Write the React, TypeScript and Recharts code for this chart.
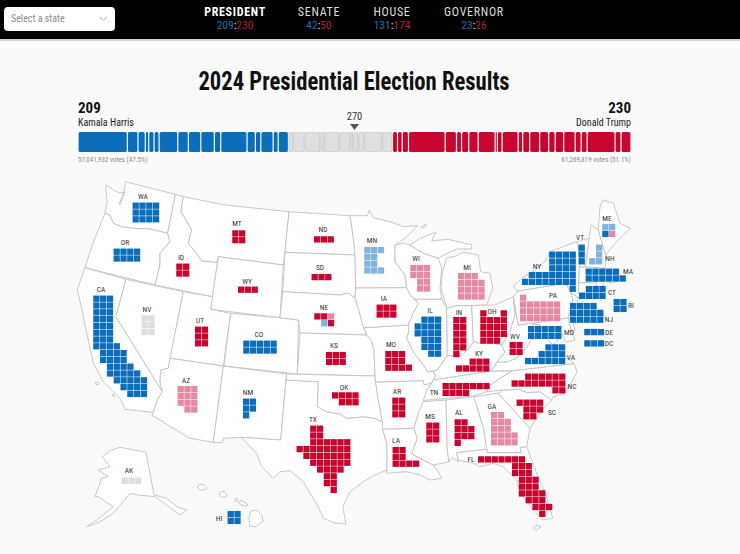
import React from "react";
import {
  Bar,
  BarChart,
  LabelList,
  Rectangle,
  Scatter,
  ScatterChart,
  XAxis,
  YAxis,
} from "recharts";

const BLUE = "#0a6ebd";
const RED = "#c8042f";
const LIGHT_BLUE = "#82b4e0";
const PINK = "#e48aa4";
const GREY = "#dedede";
const FONT = '"Roboto Condensed", "Liberation Sans Narrow", Roboto, sans-serif';

const harrisSegments = [48, 10.4, 7.1, 3.3, 5.2, 4.9, 18.2, 10.3, 12.1, 13.2, 6.2, 25.6, 8.1, 5.3, 12, 4.9, 10];
const pendingSegments = [4.6, 11.2, 15.1, 3.9, 14.6, 10.7, 2.9, 4.9, 5.8, 17.5, 10];
const trumpSegments = [4.9, 4.6, 6.1, 35.7, 11, 4.9, 7, 9.2, 16.5, 2.2, 4.6, 15.6, 4.4, 6.8, 9.7, 8.8, 6.3, 8.3, 11.2, 5.8, 5.8, 27.2, 5.8, 9.7];

const raceTabs = [
  { name: "PRESIDENT", dem: 209, rep: 230, center: 235 },
  { name: "SENATE", dem: 42, rep: 50, center: 319 },
  { name: "HOUSE", dem: 131, rep: 174, center: 392 },
  { name: "GOVERNOR", dem: 23, rep: 26, center: 474 },
];

// one square per electoral vote: D/R called, d/r leaning, n pending, "." empty
const stateCells: [string, number, number, string[]][] = [
  ["WA", 132.3, 202.3, ["DDDD", "DDDD", "DDDD"]],
  ["OR", 113.3, 248.3, ["DDDD", "DDDD"]],
  ["CA", 93, 295.3, ["DDD", "DDD", "DDD", "DDD", "DDD", "DDD", "DDD", "DDDD", ".DDDD", ".DDDD", "..DDDD", "..DDDDD", "...DDDDD", "....DDDD", ".....DDD"]],
  ["NV", 141.3, 315, ["nn", "nn", "nn"]],
  ["ID", 176, 263.3, ["RR", "RR"]],
  ["MT", 232, 230, ["RR", "RR"]],
  ["WY", 237.7, 286.3, ["RRR"]],
  ["UT", 194.7, 326.3, ["RR", "RR", "RR"]],
  ["CO", 243, 340.3, ["DDDDD", "DDDDD"]],
  ["AZ", 177.3, 385.7, ["rrr", "rrr", "rrr", ".rr"]],
  ["NM", 242.7, 398.3, ["DD", "DD", "D"]],
  ["ND", 313.7, 236, ["RRR"]],
  ["SD", 311.3, 273.7, ["RRR"]],
  ["NE", 314, 313, ["RRr", ".dR"]],
  ["KS", 325.7, 351.7, ["RRR", "RRR"]],
  ["OK", 331.7, 392, ["RRRR", ".RRR"]],
  ["TX", 296.3, 425.3, ["..RR", "..RR", "..RRRRRR", "RRRRRRRR", ".RRRRRRR", "..RRRRRR", "...RRRR", "....RR", "....RR", ".....R"]],
  ["MN", 364, 246.7, ["ddd", "dd", "dd", "ddd"]],
  ["IA", 376.3, 304.3, ["RRR", "RRR"]],
  ["MO", 385, 350.7, ["RRR", "RRR", "RRRR"]],
  ["AR", 392, 397.3, ["RR", "RR", "RR"]],
  ["LA", 392.3, 446.7, ["RR", "RR", "RRRR"]],
  ["WI", 410, 264.7, ["rrr", "rrr", ".rr", ".rr"]],
  ["IL", 414.3, 316.3, [".DDD", "DDDD", "DDDD", ".DDD", ".DDD", "..DD"]],
  ["MI", 457.7, 272.7, ["rrr", "rrrr", "rrrr", "rrrr"]],
  ["IN", 453, 316.7, ["RR", "RR", "RR", "RR", "RR", "R"]],
  ["OH", 480, 310, ["R..R", "RRRR", "RRRR", "RRRR", "RRR"]],
  ["KY", 455.7, 358.3, ["..RRR", "RRRRR"]],
  ["TN", 442.3, 382.7, ["RRRRRRR", "RRRR"]],
  ["MS", 426, 422.3, ["RR", "RR", "RR"]],
  ["AL", 454.3, 419, ["RR", "RRR", "RRR", "R"]],
  ["GA", 490.7, 411.7, ["rr", "rrr", "rrr", "rrrr", "rrrr"]],
  ["FL", 477.7, 456, ["RRRRRRR", ".....RRR", ".....RRR", "......RRR", "......RRR", "......RRRR", ".......RRR", "........RRR", ".........R"]],
  ["SC", 516.3, 399.3, ["RRRR", ".RRR", ".RR"]],
  ["NC", 511.3, 373.3, ["..RRRRRR", "RRRRRRRR", "......RR"]],
  ["WV", 509.3, 341.7, ["RR", "RR"]],
  ["VA", 524.7, 344, ["...DDD", "..DDDD", "DDDDDD"]],
  ["MD", 527.7, 325.7, ["DDDDD", "DDDDD"]],
  ["DC", 584, 340, ["DDD"]],
  ["DE", 584, 328.7, ["DDD"]],
  ["PA", 519.7, 294.3, ["r", "rrrrrr", "rrrrrr", "rrrrrr"]],
  ["NJ", 569.7, 302.7, ["DDDD", "DDDDD", "DDDDD"]],
  ["NY", 521.7, 251.3, ["....DDDD", "....DDDD", "....DDDD", ".DDDDDDD", "DDDDDDDD", ".......D"]],
  ["CT", 578.7, 285.7, [".DDD", "DDDD"]],
  ["RI", 613.3, 298.7, ["DD", "DD"]],
  ["MA", 585.3, 268.3, ["DDDDD", "DDDDDD"]],
  ["VT", 578.3, 244.3, ["D", "D", "D"]],
  ["NH", 589, 244.3, [".d", ".d", "dd"]],
  ["ME", 602, 223.7, ["dd", "Dr"]],
  ["AK", 121.3, 477.3, ["nnn"]],
  ["HI", 227.3, 510.7, ["DD", "DD"]],
];

const stateLabels: [string, number, number][] = [
  ["WA", 143, 196], ["OR", 125, 242], ["CA", 101, 289], ["NV", 147, 309], ["ID", 181, 257], ["MT", 237, 223],
  ["WY", 247, 281], ["UT", 200, 320], ["CO", 259, 334], ["AZ", 186, 380], ["NM", 248, 392], ["ND", 323, 229],
  ["SD", 320, 267], ["NE", 324, 307], ["KS", 334, 345], ["OK", 344, 387], ["TX", 313, 419], ["MN", 372, 240],
  ["IA", 384, 298], ["MO", 391, 344], ["AR", 397, 391], ["LA", 396, 440], ["WI", 416, 258], ["IL", 430, 310],
  ["MI", 467, 267], ["IN", 459, 312], ["OH", 492, 311], ["KY", 479, 353], ["TN", 434, 392], ["MS", 430, 416],
  ["AL", 459, 412], ["GA", 492, 406], ["FL", 471, 459], ["SC", 552, 412], ["NC", 572, 386], ["WV", 515, 336],
  ["VA", 571, 357], ["MD", 569, 332], ["DC", 609, 343], ["DE", 609, 332], ["PA", 553, 295], ["NJ", 609, 319],
  ["NY", 537, 266], ["CT", 612, 292], ["RI", 631, 305], ["MA", 628, 271], ["VT", 580, 237], ["NH", 610, 258],
  ["ME", 607, 218], ["AK", 129, 470], ["HI", 219, 518],
];

// state borders, in the same map units as the squares
const stateOutlines: number[][][] = [
  [[106.7, 185], [113, 190], [120, 193], [125, 192], [122, 199], [120, 205], [119, 204], [123, 195], [125, 187], [125, 181.7], [175.3, 194.3], [167.7, 233.3], [150, 229], [133.3, 228.3], [121.7, 226.7], [113.3, 223.3], [110, 215], [105, 213.3], [107.3, 201.7], [105.7, 190]],
  [[105, 213.3], [110, 215], [113.3, 223.3], [121.7, 226.7], [133.3, 228.3], [150, 229], [167.7, 233.3], [170, 241.7], [160, 253.3], [160, 265], [155, 285], [85, 267.7], [93, 243]],
  [[85, 267.7], [126, 279.3], [116, 316.7], [162.3, 391.7], [157.3, 400], [153.3, 412.3], [125, 409.3], [120, 398.3], [103.3, 381.7], [93.3, 363], [90, 348], [85, 325], [81.7, 308.3], [77.3, 290], [80, 281.7]],
  [[126, 279.3], [183.3, 291.7], [170.5, 358], [168.3, 368.3], [160.7, 370], [160, 381.7], [162.3, 391.7], [116, 316.7]],
  [[175.3, 194.3], [183.3, 196.7], [181, 211.7], [185, 218.3], [191.7, 230], [188.3, 243.3], [196.7, 253.3], [201.7, 261], [216.7, 262.3], [218.3, 256.7], [212.7, 296.7], [155, 285], [160, 265], [160, 253.3], [170, 241.7], [167.7, 233.3]],
  [[183.3, 196.7], [225, 205], [289, 211.7], [285, 252.3], [283.3, 265], [218.3, 256.7], [216.7, 262.3], [201.7, 261], [196.7, 253.3], [188.3, 243.3], [191.7, 230], [185, 218.3], [181, 211.7]],
  [[218.3, 256.7], [283.3, 265], [280, 317.7], [210.7, 309.3]],
  [[183.3, 291.7], [212.7, 296.7], [210.7, 309.3], [230.7, 313.3], [223.3, 366], [170, 358.3]],
  [[230.7, 313.3], [280, 317.7], [298.5, 320], [297.3, 374], [224, 366]],
  [[170, 358.3], [223.3, 366], [213.3, 442.3], [190, 438.3], [151.7, 415], [153.3, 412.3], [157.3, 400], [162.3, 391.7], [160, 381.7], [160.7, 370], [168.3, 368.3]],
  [[223.3, 366], [286.7, 374], [286, 380], [280.7, 440], [241, 437.3], [223.3, 438.3], [222.3, 442.7], [213.3, 442.3]],
  [[286, 380], [318.3, 381.7], [317.3, 406.7], [326.7, 411.7], [340, 414], [346.7, 418.3], [363.3, 416.7], [375, 418.3], [382.3, 421.7], [382.7, 429.3], [386.7, 443.3], [387.3, 456.7], [386.7, 470], [375, 475], [363.3, 481.7], [350, 491.7], [342.7, 506.7], [346, 524], [335, 523], [323.3, 518.3], [318.3, 506.7], [310, 493.3], [303.3, 481.7], [290, 470.7], [280, 471.7], [273.3, 478.3], [261.7, 466.7], [256.7, 453.3], [241, 437.3], [280.7, 440]],
  [[289, 211.7], [350, 215.7], [353, 235], [355, 255], [285, 252.3]],
  [[285, 252.3], [355, 255], [355.7, 288], [355, 298], [348, 293], [340, 295], [282.7, 291.7]],
  [[282.7, 291.7], [340, 295], [348, 293], [355, 298], [358.3, 308.3], [363.3, 326.7], [366.7, 335], [300, 333], [298.5, 320], [280, 317.7]],
  [[300, 333], [366.7, 335], [371.7, 341], [374, 350], [375, 376], [297.3, 374]],
  [[286.7, 374], [375, 376], [375.7, 382.3], [378.3, 400], [382.3, 421.7], [375, 418.3], [363.3, 416.7], [346.7, 418.3], [340, 414], [326.7, 411.7], [317.3, 406.7], [318.3, 381.7], [286, 380]],
  [[364, 327.7], [408.3, 325], [409, 331], [406.7, 338], [413.3, 351.7], [423.3, 365], [428, 372], [433, 371], [436, 376], [433, 380], [431.7, 383.3], [424, 385], [423.3, 380.7], [375.7, 382.3], [375, 376], [374, 350], [371.7, 341], [366.7, 335]],
  [[375.7, 382.3], [423.3, 380.7], [424, 385], [431.7, 383.3], [426.7, 390], [423.3, 406.7], [418.3, 413.3], [414, 428.3], [382.7, 429.3], [382.3, 421.7], [378.3, 400]],
  [[382.7, 429.3], [414, 428.3], [417.3, 438.3], [411.7, 454], [433.3, 465], [437, 470], [441.7, 478.3], [430, 480], [420, 475], [406.7, 471.7], [386.7, 473.3], [386.7, 470], [387.3, 456.7], [386.7, 443.3]],
  [[355, 255], [353, 235], [350, 215.7], [367.3, 215.7], [369.3, 210], [373.3, 217.7], [390, 221.7], [403.3, 226.7], [417.7, 225.7], [405, 238.3], [395, 245], [395, 261.7], [405, 275], [406.7, 287.7], [355.7, 288]],
  [[355.7, 288], [406.7, 287.7], [410, 295], [418.3, 303.3], [413.3, 313.3], [408.3, 325], [364, 327.7], [363.3, 326.7], [358.3, 308.3], [355, 298]],
  [[395, 245], [403.3, 243.3], [410, 245], [423, 253], [438.3, 258.3], [441.7, 268.3], [440, 288.3], [441.7, 299.3], [415, 299.3], [410, 295], [406.7, 287.7], [405, 275], [395, 261.7]],
  [[410, 245], [420, 238.3], [435.7, 232.3], [431.7, 241], [448, 239.3], [471.7, 245], [471.7, 249], [456.7, 249], [445, 254.3], [438.3, 258.3], [423, 253]],
  [[463.3, 252.3], [478.3, 255], [480.7, 271.7], [490, 273.3], [492.7, 288.3], [486.7, 305], [456.7, 305.7], [446.7, 308.3], [441.7, 290], [441.7, 275], [446.7, 258], [456, 256]],
  [[415, 299.3], [441.7, 299.3], [446.7, 308.3], [447.3, 350], [447, 356], [441, 365], [437, 370], [433, 371], [428, 372], [423.3, 365], [413.3, 351.7], [406.7, 338], [409, 331], [408.3, 325], [413.3, 313.3], [418.3, 303.3]],
  [[446.7, 308.3], [456.7, 305.7], [471.7, 305.7], [473.3, 341.7], [470, 348], [461.7, 355], [447, 356], [447.3, 350]],
  [[471.7, 305.7], [486.7, 305], [495, 305], [513.3, 296.7], [515, 315], [510, 331.7], [501.7, 345], [493.3, 343.3], [480, 343.3], [473.3, 341.7]],
  [[447, 356], [461.7, 355], [470, 348], [473.3, 341.7], [480, 343.3], [493.3, 343.3], [501.7, 345], [505, 352], [497, 362], [491.7, 371], [433, 380], [436, 376], [433, 371], [437, 370], [441, 365]],
  [[433, 380], [491.7, 371], [512.7, 370.7], [500, 378.3], [490, 385], [486.7, 391.7], [473.3, 396], [423.3, 400.5], [426.7, 390], [431.7, 383.3]],
  [[423.3, 401.7], [446, 400], [447.3, 450], [449, 462], [438, 464], [433.3, 465], [411.7, 454], [417.3, 438.3], [414, 428.3], [418.3, 413.3]],
  [[446, 400], [474, 396.7], [484, 430], [486.7, 449.3], [456.7, 452.7], [458.3, 461.7], [451.7, 457.3], [449, 462], [447.3, 450]],
  [[474, 396.7], [498.3, 393.3], [515, 411.7], [530, 428.3], [526.7, 446.7], [520, 447.7], [521.7, 452.7], [487.3, 452.7], [486.7, 449.3], [484, 430]],
  [[456.7, 452.7], [486.7, 449.3], [487.3, 452.7], [521.7, 452.7], [520, 447.7], [526.7, 446.7], [536.7, 473.3], [546.7, 496.7], [552.7, 518.3], [543.3, 520], [533.3, 510], [520, 493.3], [516.7, 480], [503.3, 466.7], [493.3, 463.3], [480, 466.7], [473.3, 463.3], [458.3, 460]],
  [[498.3, 393.3], [503.3, 390], [520, 389.3], [526.7, 392.7], [540, 391.7], [551.7, 400], [543.3, 408.3], [530, 428.3], [515, 411.7]],
  [[512.7, 370.7], [574, 363.5], [577, 372], [572, 381], [565, 393], [553, 397], [551.7, 400], [540, 391.7], [526.7, 392.7], [520, 389.3], [503.3, 390], [486.7, 391.7], [490, 385], [500, 378.3]],
  [[491.7, 371], [497, 362], [507, 362], [517, 358], [525, 349], [533, 338], [540, 332], [545, 337], [553, 345], [560, 352], [566, 358], [574, 363.5], [512.7, 370.7]],
  [[513.3, 296.7], [518.3, 325], [527, 323], [540, 325], [540, 332], [533, 338], [525, 349], [517, 358], [507, 362], [497, 362], [505, 352], [501.7, 345], [510, 331.7], [515, 315]],
  [[518.3, 325], [568, 318], [571.7, 332], [575, 340], [566, 342], [560, 330], [558, 340], [553, 345], [545, 337], [540, 332], [540, 325], [527, 323]],
  [[568, 318], [571, 316], [575, 330], [571.7, 332]],
  [[513.3, 296.7], [518, 291], [566, 283], [571, 293], [573, 300], [568, 318], [518.3, 325]],
  [[571, 293], [576, 296], [578, 298], [576.7, 305], [571.7, 318], [568, 318], [573, 300]],
  [[518, 291], [513, 286.7], [521.7, 278.3], [533, 271.7], [545, 261.7], [550, 251.7], [571.7, 243.3], [577.3, 241.7], [580, 260], [579.3, 267.3], [578.3, 293.3], [595, 290], [578, 298], [576, 296], [571, 293], [566, 283]],
  [[577.3, 241.7], [589.3, 238.3], [586.7, 258.3], [585, 267], [579.3, 267.3], [580, 260]],
  [[589.3, 238.3], [591, 225], [598.3, 230], [605.7, 255], [605, 268.3], [585, 267], [586.7, 258.3]],
  [[598.3, 230], [600, 206.7], [603.3, 200], [613.3, 203.3], [620, 223.3], [630.7, 228.3], [623.3, 235], [615, 243.3], [608.3, 251.7], [605.7, 255]],
  [[579.3, 267.3], [585, 267], [605, 268.3], [612, 274], [620, 280], [612, 283], [603, 281], [596, 282], [578.8, 283]],
  [[578.8, 283], [596, 282], [597, 290], [578.3, 293.3]],
  [[596, 282], [603, 281], [603, 288], [597, 290]],
  // Alaska
  [[120, 447.3], [146, 452.3], [154, 495], [166.7, 498.3], [176.7, 506.7], [186.7, 510], [180, 515], [166.7, 505], [155, 496.7], [138.3, 495], [130, 493.3], [113.3, 513.3], [100, 521.7], [86.7, 526.7], [96.7, 520], [113.3, 506.7], [98.3, 496.7], [95, 496.7], [101.7, 478.3], [108.3, 476.7], [98.3, 470], [110, 466.7], [102.3, 456.7], [111.7, 450]],
  // islands: Hawaii, Channel Islands, Keys
  [[200, 484], [204, 485], [207, 488], [204, 490], [200, 490], [197, 487]],
  [[221, 492], [224, 491], [227, 495], [226, 497], [221, 497], [219, 494]],
  [[235, 498], [238, 499], [238, 502], [235, 501]],
  [[241, 500], [246, 503], [248, 505], [243, 506], [239, 503]],
  [[251, 511], [257, 510], [262, 516], [263, 521], [255, 527], [250, 526], [249, 518]],
  [[533, 528], [537, 525], [541, 527], [536, 530]],
  [[97, 382], [99, 384], [97, 385], [95, 383]],
  [[113, 394], [115, 396], [114, 397], [112, 395]],
  [[421, 227], [426, 224], [427, 225], [423, 228]],
];

const toPoints = (ring: number[][]) =>
  [...ring, ring[0]].map(([x, y]) => ({ x, y }));

const PITCH = 6.8;
const cellsByStatus = (status: string) =>
  stateCells.flatMap(([, left, top, rows]) =>
    rows.flatMap((row, r) =>
      [...row].flatMap((c, col) =>
        c === status ? [{ x: left + (col + 0.5) * PITCH, y: top + (r + 0.5) * PITCH }] : []
      )
    )
  );

const cellColors: [string, string][] = [
  ["D", BLUE],
  ["R", RED],
  ["d", LIGHT_BLUE],
  ["r", PINK],
  ["n", GREY],
];

const labelPoints = stateLabels.map(([label, x, y]) => ({ label, x, y }));

const segments = [
  ...harrisSegments.map((v) => ({ v, fill: BLUE, stroke: "none" })),
  ...pendingSegments.map((v) => ({ v, fill: "#e0e0e0", stroke: "#c8c8c8" })),
  ...trumpSegments.map((v) => ({ v, fill: RED, stroke: "none" })),
];
const barRow = Object.fromEntries(segments.map((s, i) => [`s${i}`, s.v]));

const Nothing = () => <g />;
const Square = ({ cx, cy, fill }: any) => (
  <rect x={cx - 3.15} y={cy - 3.15} width={6.3} height={6.3} fill={fill} />
);
const DownTriangle = ({ cx, cy }: any) => (
  <path d={`M${cx - 4.5} ${cy - 3}h9l-4.5 6z`} fill="#555" />
);
// leaves a hairline of page between neighbouring states on the bar
const Segment = ({ x, y, width, height, fill, stroke }: any) => (
  <Rectangle x={x + 0.6} y={y} width={Math.max(width - 1.2, 0.6)} height={height} radius={1.5} fill={fill} stroke={stroke} strokeWidth={0.9} />
);

const text = (style: React.CSSProperties): React.CSSProperties => ({
  position: "absolute",
  fontFamily: FONT,
  whiteSpace: "nowrap",
  lineHeight: 1,
  ...style,
});

export default function App() {
  return (
    <div style={{ position: "absolute", left: 0, top: 0, width: 740, height: 554, background: "#fafafa", overflow: "hidden" }}>
      <div style={{ position: "absolute", left: 0, top: 0 }}>
        <ScatterChart width={740} height={554} margin={{ top: 0, right: 0, bottom: 0, left: 0 }}>
          <XAxis type="number" dataKey="x" domain={[0, 740]} hide />
          <YAxis type="number" dataKey="y" domain={[0, 554]} reversed hide />
          {stateOutlines.map((ring, i) => (
            <Scatter
              key={i}
              data={toPoints(ring)}
              shape={Nothing}
              line={{ stroke: "#c2c2c2", strokeWidth: 0.9, fill: "#fff" }}
              isAnimationActive={false}
            />
          ))}
          {cellColors.map(([status, color]) => (
            <Scatter key={status} data={cellsByStatus(status)} shape={Square} fill={color} isAnimationActive={false} />
          ))}
          <Scatter data={labelPoints} shape={Nothing} isAnimationActive={false}>
            <LabelList dataKey="label" position="center" fontSize={7.5} fontWeight={400} fill="#333" stroke="none" fontFamily={FONT} />
          </Scatter>
          <Scatter data={[{ x: 354.5, y: 127 }]} shape={DownTriangle} isAnimationActive={false} />
        </ScatterChart>
      </div>

      <div style={{ position: "absolute", left: 78, top: 132 }}>
        <BarChart width={553} height={20} data={[barRow]} layout="vertical" margin={{ top: 0, right: 0, bottom: 0, left: 0 }} barCategoryGap={0}>
          <XAxis type="number" domain={[0, 538]} hide />
          <YAxis type="category" hide />
          {segments.map((s, i) => (
            <Bar key={i} dataKey={`s${i}`} stackId="ev" fill={s.fill} stroke={s.stroke} shape={Segment} isAnimationActive={false} />
          ))}
        </BarChart>
      </div>

      <div style={{ position: "absolute", left: 0, top: 0, width: 740, height: 39, background: "#000", borderBottom: "2px solid #d4d4d4" }} />
      <div style={{ position: "absolute", left: 4, top: 7, width: 111, height: 24, background: "#fff", borderRadius: 4 }} />
      <div style={text({ left: 11, top: 14, fontSize: 10, color: "#8a8a8a" })}>Select a state</div>
      <svg style={{ position: "absolute", left: 99, top: 16 }} width={9} height={6}>
        <path d="M1 1l3.5 3.5L8 1" fill="none" stroke="#b5b5b5" />
      </svg>
      {raceTabs.map((t, i) => (
        <React.Fragment key={t.name}>
          <div style={text({ left: t.center - 50, width: 100, textAlign: "center", top: 6, fontSize: 12, letterSpacing: 0.7, fontWeight: i === 0 ? 700 : 400, color: i === 0 ? "#fff" : "#ddd" })}>
            {t.name}
          </div>
          <div style={text({ left: t.center - 50, width: 100, textAlign: "center", top: 20, fontSize: 11.5 })}>
            <span style={{ color: "#2a6aa8" }}>{t.dem}</span>
            <span style={{ color: "#fff" }}>:</span>
            <span style={{ color: "#b3213c" }}>{t.rep}</span>
          </div>
        </React.Fragment>
      ))}

      <div style={text({ left: 0, width: 708, textAlign: "center", top: 69, fontSize: 25, fontWeight: 700, color: "#111", transform: "scaleX(0.905)" })}>
        2024 Presidential Election Results
      </div>

      <div style={text({ left: 78, top: 101, fontSize: 15, lineHeight: "15px", fontWeight: 700, color: "#111" })}>209</div>
      <div style={text({ left: 78, top: 117.5, fontSize: 10, color: "#222" })}>Kamala Harris</div>
      <div style={text({ left: 78, top: 157, fontSize: 7, color: "#8a8a8a" })}>57,041,932 votes (47.5%)</div>
      <div style={text({ right: 109, top: 101, fontSize: 15, lineHeight: "15px", fontWeight: 700, color: "#111" })}>230</div>
      <div style={text({ right: 109, top: 117.5, fontSize: 10, color: "#222" })}>Donald Trump</div>
      <div style={text({ right: 109, top: 157, fontSize: 7, color: "#8a8a8a" })}>61,269,819 votes (51.1%)</div>
      <div style={text({ left: 334.5, width: 40, textAlign: "center", top: 112, fontSize: 10.5, color: "#333" })}>270</div>
    </div>
  );
}
